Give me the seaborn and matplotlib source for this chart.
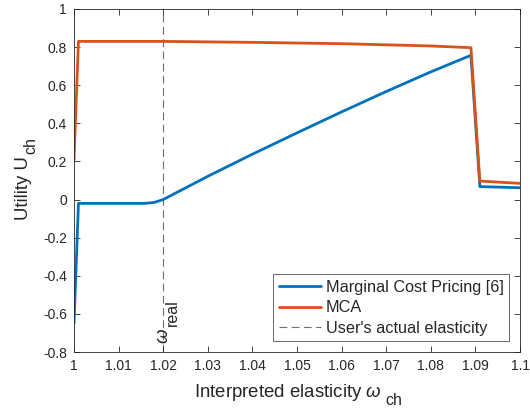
import numpy as np
import pandas as pd
import matplotlib
matplotlib.use("Agg")
import matplotlib.pyplot as plt
import matplotlib.transforms as mtransforms
import seaborn as sns

# Data
mcp_x = [1.000, 1.001, 1.016, 1.018, 1.020, 1.030, 1.040, 1.050, 1.060, 1.070, 1.080, 1.089, 1.091, 1.100]
mcp_y = [-0.65, -0.02, -0.02, -0.015, 0.000, 0.122, 0.238, 0.350, 0.460, 0.567, 0.670, 0.757, 0.068, 0.062]

mca_x = [1.000, 1.001, 1.020, 1.040, 1.060, 1.080, 1.089, 1.091, 1.100]
mca_y = [0.205, 0.830, 0.830, 0.825, 0.818, 0.806, 0.797, 0.097, 0.085]

x_real = 1.02
x_ticks = [1.0, 1.01, 1.02, 1.03, 1.04, 1.05, 1.06, 1.07, 1.08, 1.09, 1.1]
x_tick_labels = ["1", "1.01", "1.02", "1.03", "1.04", "1.05", "1.06", "1.07", "1.08", "1.09", "1.1"]
y_ticks = [-0.8, -0.6, -0.4, -0.2, 0, 0.2, 0.4, 0.6, 0.8, 1]
y_tick_labels = ["-0.8", "-0.6", "-0.4", "-0.2", "0", "0.2", "0.4", "0.6", "0.8", "1"]

sns.set_theme(style="ticks")
plt.rcParams["font.family"] = ["Liberation Sans", "DejaVu Sans"]
plt.rcParams["mathtext.fontset"] = "custom"
plt.rcParams["mathtext.rm"] = "Liberation Sans"
plt.rcParams["mathtext.it"] = "Liberation Sans:italic"

W, H = 530, 408
axcol = "#262626"
fig = plt.figure(figsize=(W / 100, H / 100), dpi=100)
ax = fig.add_axes([74 / W, 1 - 352 / H, (520 - 74) / W, (352 - 9) / H])
px = mtransforms.IdentityTransform()

blue = "#0072BD"
orange = "#D95319"

sns.lineplot(x=mcp_x, y=mcp_y, ax=ax, color=blue, lw=2, sort=False, estimator=None,
             label="Marginal Cost Pricing [6]")
sns.lineplot(x=mca_x, y=mca_y, ax=ax, color=orange, lw=2, sort=False, estimator=None,
             label="MCA")
ax.axvline(x_real, color="#6e6e6e", lw=0.8, ls=(0, (7, 4)), label="User's actual elasticity", zorder=0)

ax.set_xlim(1.0, 1.1)
ax.set_ylim(-0.8, 1.0)
ax.set_xticks(x_ticks)
ax.set_xticklabels(x_tick_labels)
ax.set_yticks(y_ticks)
ax.set_yticklabels(y_tick_labels)
ax.tick_params(direction="in", length=4, width=0.6, colors=axcol, labelsize=10,
               top=True, right=True, pad=5)
for s in ax.spines.values():
    s.set_color(axcol)
    s.set_linewidth(0.6)
    s.set_visible(True)

leg = ax.legend(loc="lower right", fontsize=11.7, frameon=True, fancybox=False,
                edgecolor=axcol, handlelength=2.6, handletextpad=0.3, borderpad=0.35,
                labelspacing=0.33, borderaxespad=0.65)
leg.get_frame().set_linewidth(0.6)

# Labels with MATLAB-like (large, deeply lowered) subscripts
lab_fs = 13.4
sub_fs = 11.5
xl = fig.text(194, H - 397, r"Interpreted elasticity $\omega$", transform=px,
              ha="left", va="baseline", fontsize=lab_fs, color=axcol)
yl = fig.text(28, H - 220, "Utility U", transform=px, rotation=90, rotation_mode="anchor",
              ha="left", va="baseline", fontsize=lab_fs, color=axcol)
wr = fig.text(168, H - 344, r"$\omega$", transform=px, rotation=90, rotation_mode="anchor",
              ha="left", va="baseline", fontsize=lab_fs, color=axcol)

fig.canvas.draw()
r = fig.canvas.get_renderer()
bb = xl.get_window_extent(r)
fig.text(bb.x1 + 4, H - 405, "ch", transform=px, ha="left", va="baseline",
         fontsize=sub_fs, color=axcol)
bb = yl.get_window_extent(r)
fig.text(35, bb.y1 + 2, "ch", transform=px, rotation=90, rotation_mode="anchor",
         ha="left", va="baseline", fontsize=sub_fs, color=axcol)
bb = wr.get_window_extent(r)
fig.text(177, bb.y1 + 2, "real", transform=px, rotation=90, rotation_mode="anchor",
         ha="left", va="baseline", fontsize=sub_fs, color=axcol)

fig.savefig("out.png", dpi=100)
